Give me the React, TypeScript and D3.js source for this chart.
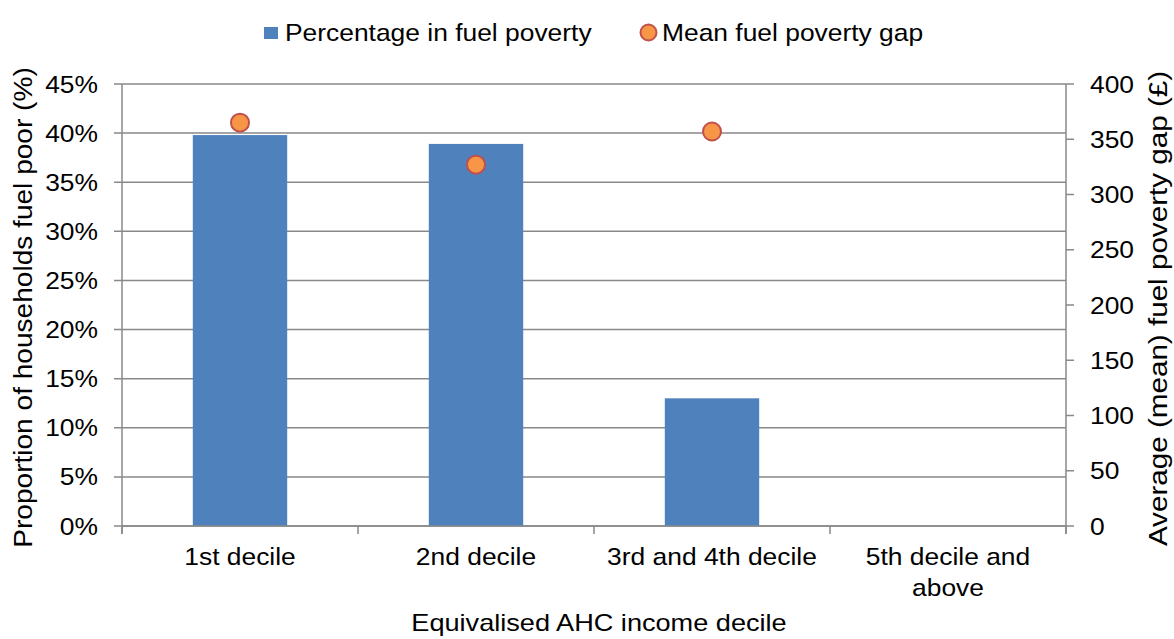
import React, { useRef, useEffect } from 'react';
import * as d3 from 'd3';

const categories = ['1st decile', '2nd decile', '3rd and 4th decile', '5th decile and above'];
const categoryLines = [['1st decile'], ['2nd decile'], ['3rd and 4th decile'], ['5th decile and', 'above']];
const percentFuelPoor: (number | null)[] = [39.8, 38.9, 13.0, null];
const meanGap: (number | null)[] = [365, 327, 357, null];
const leftTicks = [0, 5, 10, 15, 20, 25, 30, 35, 40, 45];
const rightTicks = [0, 50, 100, 150, 200, 250, 300, 350, 400];

const FONT = '"Liberation Sans", Arial, sans-serif';
const GRID = '#898989';
const BAR = '#4F81BD';
const DOT = '#F79646';
const DOT_EDGE = '#C0504D';
const SX = 1.1; // text in the source is a little wider than it is tall

const App = () => {
  const ref = useRef<SVGSVGElement>(null);
  const width = 1174;
  const height = 639;

  useEffect(() => {
    const left = 122, right = 1066, top = 84, bottom = 526;

    const svg = d3.select(ref.current);
    svg.selectAll('*').remove();

    const x = d3.scaleBand().domain(categories).range([left, right]).paddingInner(0.6).paddingOuter(0.3);
    const yl = d3.scaleLinear().domain([0, 45]).range([bottom, top]);
    const yr = d3.scaleLinear().domain([0, 400]).range([bottom, top]);
    const step = x.step();

    const label = (g: any, tx: number, ty: number, txt: string, anchor: string, size = 24, sx = SX) =>
      g.append('text')
        .attr('transform', `translate(${tx},${ty}) scale(${sx},1)`)
        .attr('text-anchor', anchor).attr('font-family', FONT).attr('font-size', size)
        .attr('fill', '#000').text(txt);

    // gridlines + left ticks
    svg.append('g').selectAll('line').data(leftTicks).join('line')
      .attr('x1', left - 8).attr('x2', right)
      .attr('y1', d => yl(d)).attr('y2', d => yl(d))
      .attr('stroke', GRID).attr('stroke-width', 1.5);

    const lt = svg.append('g');
    leftTicks.forEach(d => label(lt, 98, yl(d) + 8.5, `${d}%`, 'end'));

    // right ticks
    svg.append('g').selectAll('line').data(rightTicks).join('line')
      .attr('x1', right).attr('x2', right + 8)
      .attr('y1', d => yr(d)).attr('y2', d => yr(d))
      .attr('stroke', GRID).attr('stroke-width', 1.5);

    const rt = svg.append('g');
    rightTicks.forEach(d => label(rt, 1090, yr(d) + 8.5, `${d}`, 'start'));

    // bars
    svg.append('g').selectAll('rect')
      .data(categories.map((c, i) => ({ c, v: percentFuelPoor[i] })).filter(d => d.v !== null))
      .join('rect')
      .attr('x', d => x(d.c)!).attr('width', x.bandwidth())
      .attr('y', d => yl(d.v as number)).attr('height', d => bottom - yl(d.v as number))
      .attr('fill', BAR);

    // axis lines
    svg.append('line').attr('x1', left).attr('x2', left).attr('y1', top).attr('y2', bottom + 8)
      .attr('stroke', GRID).attr('stroke-width', 1.5);
    svg.append('line').attr('x1', right).attr('x2', right).attr('y1', top).attr('y2', bottom + 8)
      .attr('stroke', GRID).attr('stroke-width', 1.5);
    svg.append('line').attr('x1', left).attr('x2', right).attr('y1', bottom).attr('y2', bottom)
      .attr('stroke', GRID).attr('stroke-width', 1.5);

    // category ticks
    svg.append('g').selectAll('line').data(d3.range(categories.length + 1)).join('line')
      .attr('x1', i => left + i * step).attr('x2', i => left + i * step)
      .attr('y1', bottom).attr('y2', bottom + 8)
      .attr('stroke', GRID).attr('stroke-width', 1.5);

    // category labels
    const cg = svg.append('g');
    categories.forEach((c, i) => {
      categoryLines[i].forEach((line, j) => {
        label(cg, x(c)! + x.bandwidth() / 2, 565 + j * 31, line, 'middle');
      });
    });

    // dots
    svg.append('g').selectAll('circle')
      .data(categories.map((c, i) => ({ c, v: meanGap[i] })).filter(d => d.v !== null))
      .join('circle')
      .attr('cx', d => x(d.c)! + x.bandwidth() / 2).attr('cy', d => yr(d.v as number))
      .attr('r', 9).attr('fill', DOT).attr('stroke', DOT_EDGE).attr('stroke-width', 2);

    // axis titles
    label(svg, 599, 630.5, 'Equivalised AHC income decile', 'middle', 23, 1.18);
    svg.append('text').attr('transform', 'translate(32,307.5) rotate(-90) scale(1.08,1)').attr('text-anchor', 'middle')
      .attr('font-family', FONT).attr('font-size', 26).attr('fill', '#000')
      .text('Proportion of households fuel poor (%)');
    svg.append('text').attr('transform', 'translate(1167,308.5) rotate(-90) scale(1.14,1)').attr('text-anchor', 'middle')
      .attr('font-family', FONT).attr('font-size', 26).attr('fill', '#000')
      .text('Average (mean) fuel poverty gap (£)');

    // legend
    const lg = svg.append('g');
    lg.append('rect').attr('x', 264).attr('y', 27).attr('width', 14).attr('height', 12).attr('fill', BAR);
    label(lg, 285, 40.7, 'Percentage in fuel poverty', 'start');
    lg.append('circle').attr('cx', 648.5).attr('cy', 32.5).attr('r', 8)
      .attr('fill', DOT).attr('stroke', DOT_EDGE).attr('stroke-width', 2);
    label(lg, 662, 40.7, 'Mean fuel poverty gap', 'start');

    return () => {
      d3.select(ref.current).selectAll('*').remove();
    };
  }, []);

  return (
    <div style={{ position: 'absolute', left: 0, top: 0 }}>
      <svg ref={ref} width={width} height={height} style={{ display: 'block', background: '#fff' }}></svg>
    </div>
  );
};

export default App;
